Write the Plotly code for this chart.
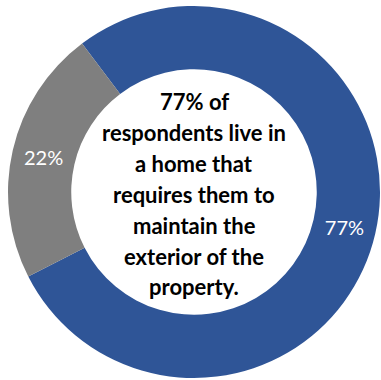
import plotly.graph_objects as go

# Survey split: respondents who maintain the exterior vs. those who don't
labels = ["Maintain exterior", "Do not maintain exterior"]
values = [77, 22]
colors = ["#2F5597", "#7F7F7F"]

center_lines = [
    "77% of",
    "respondents live in",
    "a home that",
    "requires them to",
    "maintain the",
    "exterior of the",
    "property.",
]

W, H = 381, 380
cx, cy, r_out = 194, 192, 186

fig = go.Figure(
    go.Pie(
        labels=labels,
        values=values,
        hole=0.66,
        sort=False,
        direction="clockwise",
        rotation=-37,
        marker=dict(colors=colors, line=dict(width=0)),
        texttemplate="%{value}%",
        textposition="inside",
        insidetextorientation="horizontal",
        textfont=dict(family="Lato", size=20, color="white"),
        showlegend=False,
        hoverinfo="label+value",
        domain=dict(
            x=[(cx - r_out) / W, (cx + r_out) / W],
            y=[(H - cy - r_out) / H, (H - cy + r_out) / H],
        ),
    )
)

# Centre caption, one annotation per line for even spacing
line_pitch = 30.8
first_line_y = 102
for i, line in enumerate(center_lines):
    y_px = first_line_y + i * line_pitch
    fig.add_annotation(
        x=cx / W,
        y=1 - y_px / H,
        xref="paper",
        yref="paper",
        text=f"<b>{line}</b>",
        showarrow=False,
        xanchor="center",
        yanchor="middle",
        font=dict(family="Lato", size=22, color="black"),
    )

fig.update_layout(
    width=W,
    height=H,
    margin=dict(l=0, r=0, t=0, b=0),
    paper_bgcolor="white",
    plot_bgcolor="white",
)

fig.write_html("out.html")
